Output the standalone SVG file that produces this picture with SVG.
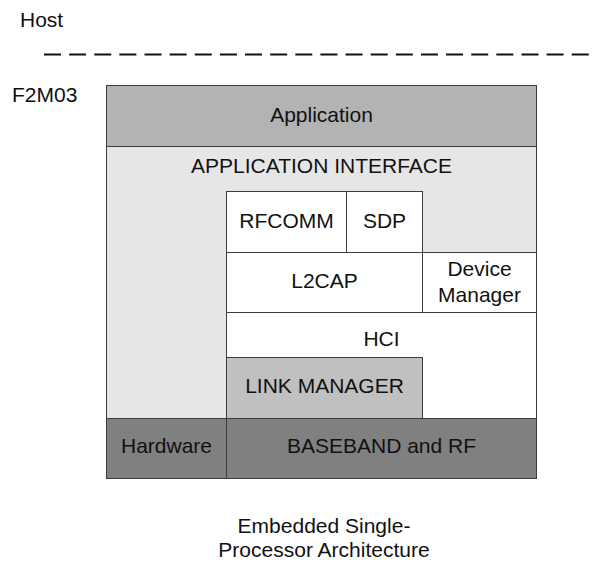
<svg xmlns="http://www.w3.org/2000/svg" width="594" height="562" viewBox="0 0 594 562">
<style>
text{font-family:"Liberation Sans",Arial,sans-serif;font-size:21px;fill:#111;}
.c{text-anchor:middle;}
.b{stroke:#3c3c3c;stroke-width:1;}
</style>
<rect width="594" height="562" fill="#fff"/>
<text x="20" y="27">Host</text>
<text x="12" y="102">F2M03</text>
<g id="connectors">
<line x1="44" y1="54.5" x2="594" y2="54.5" stroke="#111" stroke-width="2.2" stroke-dasharray="17 8.13"/>
</g>
<g id="interface"><rect class="b" x="106.5" y="146.5" width="430" height="272" fill="#e6e6e6"/><text class="c" x="321.5" y="173">APPLICATION INTERFACE</text></g>
<g id="application"><rect class="b" x="106.5" y="85.5" width="430" height="61" fill="#b3b3b3"/><text class="c" x="321.5" y="122">Application</text></g>
<g id="rfcomm"><rect class="b" x="226.5" y="191.5" width="120" height="61" fill="#fff"/><text class="c" x="286.5" y="228">RFCOMM</text></g>
<g id="sdp"><rect class="b" x="346.5" y="191.5" width="76" height="61" fill="#fff"/><text class="c" x="384.5" y="228">SDP</text></g>
<g id="l2cap"><rect class="b" x="226.5" y="252.5" width="196" height="60" fill="#fff"/><text class="c" x="324.5" y="288">L2CAP</text></g>
<g id="device-manager"><rect class="b" x="422.5" y="252.5" width="114" height="60" fill="#fff"/><text class="c" x="479.5" y="276">Device</text><text class="c" x="479.5" y="302">Manager</text></g>
<g id="hci"><rect class="b" x="226.5" y="312.5" width="310" height="106" fill="#fff"/><text class="c" x="381.5" y="346">HCI</text></g>
<g id="link-manager"><rect class="b" x="226.5" y="357.5" width="196" height="61" fill="#c0c0c0"/><text class="c" x="324.5" y="393">LINK MANAGER</text></g>
<g id="hardware"><rect class="b" x="106.5" y="418.5" width="120" height="60" fill="#808080"/><text class="c" x="166.5" y="453">Hardware</text></g>
<g id="baseband"><rect class="b" x="226.5" y="418.5" width="310" height="60" fill="#808080"/><text class="c" x="381.5" y="453">BASEBAND and RF</text></g>
<text class="c" x="324" y="533">Embedded Single-</text>
<text class="c" x="324" y="557">Processor Architecture</text>
</svg>
